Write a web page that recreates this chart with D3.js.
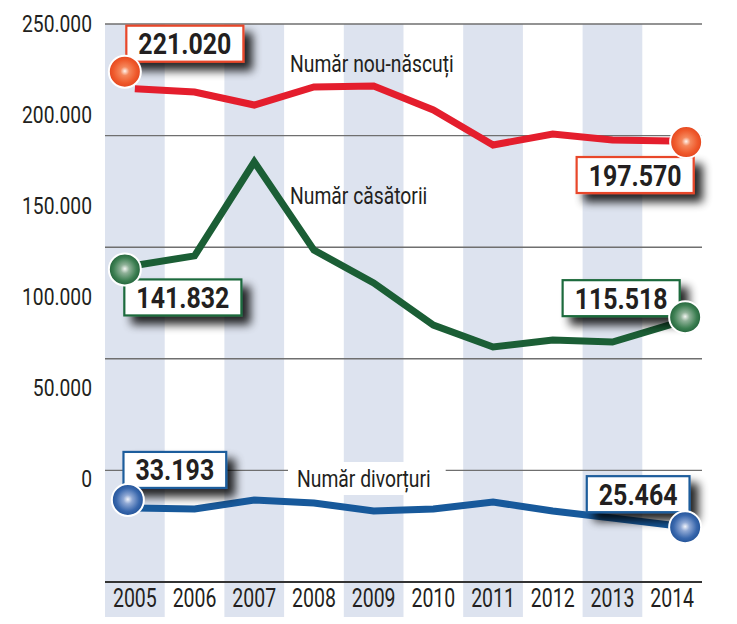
<!DOCTYPE html>
<html>
<head>
<meta charset="utf-8">
<script src="https://cdn.jsdelivr.net/npm/d3@7"></script>
<style>
  body { margin: 0; background: #fff; }
  text { font-family: Roboto, "Liberation Sans", sans-serif; fill: #231f20; }
</style>
</head>
<body>
<div id="wrapper"></div>
<script>
// 1. Data
const years = ["2005", "2006", "2007", "2008", "2009", "2010", "2011", "2012", "2013", "2014"]
const births = [221020, 219500, 213700, 221800, 222200, 211500, 195800, 200700, 198000, 197570]
const marriages = [141832, 146100, 188200, 148700, 134000, 115100, 105300, 108400, 107500, 115518]
const divorces = [33193, 32700, 36700, 35400, 31800, 32700, 35800, 31800, 28700, 25464]
const yTicks = [0, 50000, 100000, 150000, 200000, 250000]
const seriesNames = ["Număr nou-născuți", "Număr căsătorii", "Număr divorțuri"]

const fmt = d3.formatLocale({ decimal: ",", thousands: ".", grouping: [3], currency: ["", ""] }).format(",d")

// styling per series (colors, where the end labels and dots sit)
const styles = [
  { values: births, color: "#e41e2d", border: "#e8472a", dot: ["#fff4ee", "#f5875c", "#ef5a2c", "#e03f1a"],
    label: [80, 48], first: { box: [50, -45], dot: [-10, -17] }, last: { box: [-37, 34], dot: [14, 1] } },
  { values: marriages, color: "#1b5e35", border: "#1d6b3d", dot: ["#f2f5f1", "#8fb198", "#3d7f52", "#185932"],
    label: [80, 180], first: { box: [48, 32], dot: [-10, 4] }, last: { box: [-51, -26], dot: [13, -7] } },
  { values: divorces, color: "#17599b", border: "#1f5d9c", dot: ["#f1f4fb", "#8fa8d4", "#3a68ad", "#184a8f"],
    label: [87, 463], first: { box: [40, -38], dot: [-7, -8] }, last: { box: [-34, -31], dot: [13, 2] }, knockout: true },
]

// 2. Dimensions
let dimensions = {
  width: 737,
  height: 624,
  margin: { top: 24, right: 35, bottom: 42, left: 105 },
}
dimensions.boundedWidth = dimensions.width - dimensions.margin.left - dimensions.margin.right
dimensions.boundedHeight = dimensions.height - dimensions.margin.top - dimensions.margin.bottom

// 3. Canvas
const wrapper = d3.select("#wrapper")
  .append("svg")
  .attr("width", dimensions.width)
  .attr("height", dimensions.height)

const defs = wrapper.append("defs")
const shadow = defs.append("filter")
  .attr("id", "shadow")
  .attr("x", "-30%").attr("y", "-40%")
  .attr("width", "170%").attr("height", "200%")
shadow.append("feGaussianBlur").attr("in", "SourceAlpha").attr("stdDeviation", 5)
shadow.append("feOffset").attr("dx", 8).attr("dy", 8).attr("result", "blur")
shadow.append("feComponentTransfer").append("feFuncA").attr("type", "linear").attr("slope", 0.85)
const merge = shadow.append("feMerge")
merge.append("feMergeNode")
merge.append("feMergeNode").attr("in", "SourceGraphic")

styles.forEach((s, i) => {
  const g = defs.append("radialGradient")
    .attr("id", "dot" + i)
    .attr("cx", "50%").attr("cy", "50%").attr("r", "55%")
    .attr("fx", "50%").attr("fy", "48%")
  g.append("stop").attr("offset", "0%").attr("stop-color", s.dot[0])
  g.append("stop").attr("offset", "25%").attr("stop-color", s.dot[1])
  g.append("stop").attr("offset", "65%").attr("stop-color", s.dot[2])
  g.append("stop").attr("offset", "100%").attr("stop-color", s.dot[3])
})

const bounds = wrapper.append("g")
  .attr("transform", `translate(${dimensions.margin.left},${dimensions.margin.top})`)

// 4. Scales
const xScale = d3.scaleBand()
  .domain(years)
  .range([0, dimensions.boundedWidth])

const yScale = d3.scaleLinear()
  .domain([0, 250000])
  .range([dimensions.boundedHeight, 0])

// the printed tick labels sit on their own, tighter ladder
const yLabelScale = d3.scaleLinear()
  .domain([0, 250000])
  .range([455, 0])

const xMid = d => xScale(d) + xScale.bandwidth() / 2

// 5. Peripherals behind the data
bounds.selectAll(".band")
  .data(years.filter((d, i) => i % 2 == 0))
  .enter()
  .append("rect")
  .attr("class", "band")
  .attr("x", d => xScale(d))
  .attr("y", 0)
  .attr("width", xScale.bandwidth())
  .attr("height", dimensions.boundedHeight + 35)
  .attr("fill", "#dde3ef")

bounds.selectAll(".grid")
  .data(yTicks.filter(d => d > 0))
  .enter()
  .append("line")
  .attr("class", "grid")
  .attr("x1", 0)
  .attr("x2", dimensions.boundedWidth)
  .attr("y1", d => yScale(d))
  .attr("y2", d => yScale(d))
  .attr("stroke", "#6f6f6f")
  .attr("stroke-width", 1.4)

bounds.append("line")
  .attr("x1", 0)
  .attr("x2", dimensions.boundedWidth)
  .attr("y1", yScale(0))
  .attr("y2", yScale(0))
  .attr("stroke", "#333")
  .attr("stroke-width", 2)

const yAxis = bounds.append("g")
  .attr("transform", "translate(-13,0)")
  .call(d3.axisLeft(yLabelScale).tickValues(yTicks).tickFormat(fmt).tickSize(0).tickPadding(0))
yAxis.select(".domain").remove()
yAxis.selectAll("text")
  .attr("transform", "scale(0.82,1)")
  .style("font-size", "23.5px")
  .style("fill", "#231f20")

const xAxis = bounds.append("g")
  .attr("transform", `translate(0,${dimensions.boundedHeight})`)
  .call(d3.axisBottom(xScale).tickSize(0).tickPadding(7))
xAxis.select(".domain").remove()
xAxis.selectAll("text")
  .attr("transform", "scale(0.78,1)")
  .style("font-size", "25px")
  .style("fill", "#231f20")

// series names
styles.forEach((s, i) => {
  const t = bounds.append("text")
    .attr("transform", `translate(${s.label[0] + 105},${s.label[1]}) scale(0.84,1)`)
    .style("font-size", "23px")
    .text(seriesNames[i])
  if (s.knockout) {
    const w = t.node().getComputedTextLength() * 0.84
    bounds.insert("rect", () => t.node())
      .attr("x", s.label[0] + 105 - 9)
      .attr("y", s.label[1] - 25)
      .attr("width", w + 24)
      .attr("height", 33)
      .attr("fill", "#fff")
  }
})

// 6. Data lines
const lineGenerator = d3.line()
  .x((d, i) => xMid(years[i]))
  .y(d => yScale(d))

bounds.selectAll(".series")
  .data(styles)
  .enter()
  .append("path")
  .attr("class", "series")
  .attr("d", d => lineGenerator(d.values))
  .attr("fill", "none")
  .attr("stroke", d => d.color)
  .attr("stroke-width", 7)

// value boxes at both ends
styles.forEach((s, i) => {
  [["first", 0], ["last", years.length - 1]].forEach(([end, idx]) => {
    const px = xMid(years[idx]) + s[end].box[0]
    const py = yScale(s.values[idx]) + s[end].box[1]
    const g = bounds.append("g").attr("transform", `translate(${px},${py})`)
    const rect = g.append("rect")
    const t = g.append("text")
      .attr("transform", "translate(0,10.5) scale(0.86,1)")
      .attr("text-anchor", "middle")
      .style("font-size", "29px")
      .style("font-weight", "bold")
      .text(fmt(s.values[idx]))
    const w = t.node().getComputedTextLength() * 0.86 + 24
    rect.attr("x", -w / 2)
      .attr("y", -18)
      .attr("width", w)
      .attr("height", 36)
      .attr("fill", "#fff")
      .attr("stroke", s.border)
      .attr("stroke-width", 2.2)
      .attr("filter", "url(#shadow)")
  })
})

// end dots
styles.forEach((s, i) => {
  [["first", 0], ["last", years.length - 1]].forEach(([end, idx]) => {
    bounds.append("circle")
      .attr("cx", xMid(years[idx]) + s[end].dot[0])
      .attr("cy", yScale(s.values[idx]) + s[end].dot[1])
      .attr("r", 16)
      .attr("fill", `url(#dot${i})`)
      .attr("stroke", "#fff")
      .attr("stroke-width", 2)
  })
})
</script>
</body>
</html>
